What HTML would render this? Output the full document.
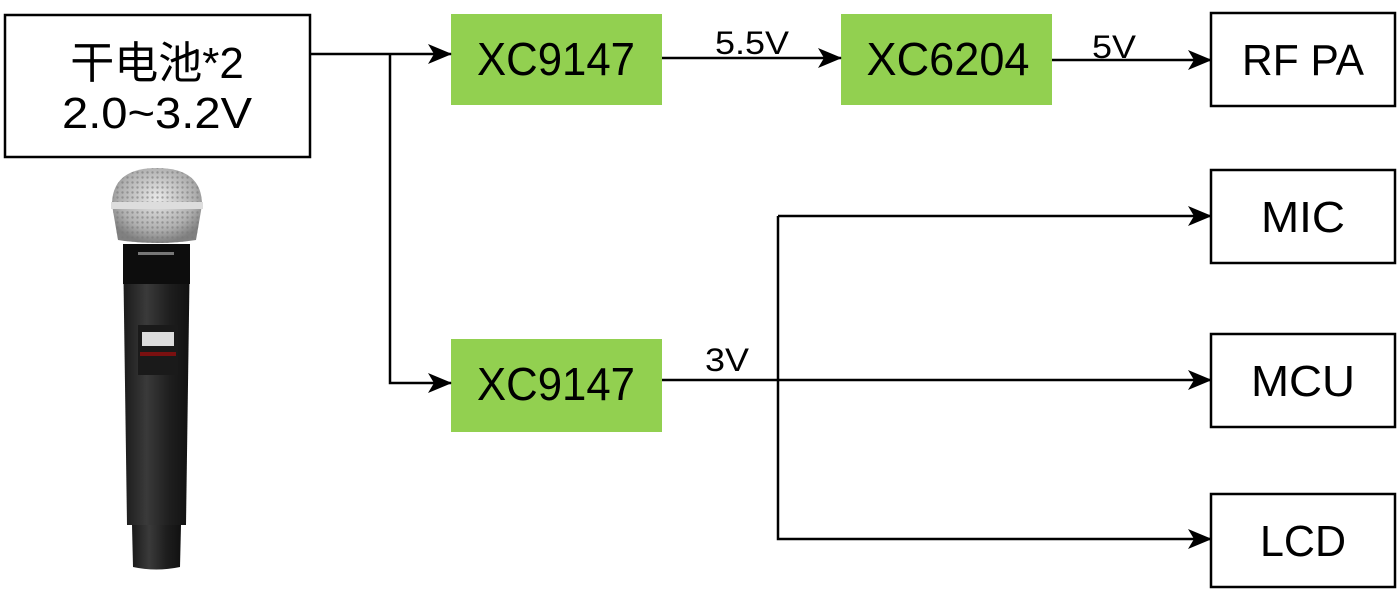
<!DOCTYPE html>
<html><head><meta charset="utf-8"><style>
html,body{margin:0;padding:0;background:#fff;}
svg{display:block;}
text{font-family:"Liberation Sans","Noto Sans CJK SC",sans-serif;fill:#000;}
</style></head><body>
<svg width="1398" height="591" viewBox="0 0 1398 591" xmlns="http://www.w3.org/2000/svg">
<defs>
<marker id="a" markerWidth="24" markerHeight="22" refX="23" refY="11" orient="auto" markerUnits="userSpaceOnUse">
<path d="M0,1 L24,11 L0,21 L6,11 Z" fill="#000"/>
</marker>
<radialGradient id="mesh" cx="50%" cy="40%" r="60%">
<stop offset="0" stop-color="#e8e8e8"/><stop offset="0.7" stop-color="#b0b0b0"/><stop offset="1" stop-color="#808080"/>
</radialGradient>
<pattern id="dots" width="5" height="5" patternUnits="userSpaceOnUse"><circle cx="2.5" cy="2.5" r="1.2" fill="#777"/></pattern>
<linearGradient id="body" x1="0" x2="1"><stop offset="0" stop-color="#1a1a1a"/><stop offset="0.35" stop-color="#3a3a3a"/><stop offset="0.7" stop-color="#1e1e1e"/><stop offset="1" stop-color="#111"/></linearGradient>
</defs>

<rect x="5" y="15" width="305" height="142" fill="#fff" stroke="#000" stroke-width="2.5"/>
<text x="157" y="78" font-size="44" text-anchor="middle">干电池*2</text>
<text x="157" y="128" font-size="44" text-anchor="middle" textLength="190" lengthAdjust="spacingAndGlyphs">2.0~3.2V</text>

<rect x="451" y="14" width="211" height="91" fill="#92d050"/>
<text x="556" y="75" font-size="46" text-anchor="middle" textLength="158" lengthAdjust="spacingAndGlyphs">XC9147</text>
<rect x="841" y="14" width="211" height="91" fill="#92d050"/>
<text x="948" y="75" font-size="46" text-anchor="middle" textLength="163" lengthAdjust="spacingAndGlyphs">XC6204</text>
<rect x="451" y="339" width="211" height="93" fill="#92d050"/>
<text x="556" y="400" font-size="46" text-anchor="middle" textLength="158" lengthAdjust="spacingAndGlyphs">XC9147</text>

<g fill="#fff" stroke="#000" stroke-width="2.5">
<rect x="1211" y="13" width="184" height="93"/>
<rect x="1211" y="170" width="184" height="93"/>
<rect x="1211" y="334" width="184" height="93"/>
<rect x="1211" y="494" width="184" height="93"/>
</g>
<text x="1303" y="75" font-size="44" text-anchor="middle" textLength="122" lengthAdjust="spacingAndGlyphs">RF PA</text>
<text x="1303" y="232" font-size="44" text-anchor="middle" textLength="84" lengthAdjust="spacingAndGlyphs">MIC</text>
<text x="1303" y="396" font-size="44" text-anchor="middle" textLength="104" lengthAdjust="spacingAndGlyphs">MCU</text>
<text x="1303" y="556" font-size="44" text-anchor="middle" textLength="86" lengthAdjust="spacingAndGlyphs">LCD</text>

<g stroke="#000" stroke-width="2.5" fill="none">
<path d="M310,54 H451" marker-end="url(#a)"/>
<path d="M390,54 V383 H451" marker-end="url(#a)"/>
<path d="M662,58 H841" marker-end="url(#a)"/>
<path d="M1052,60 H1211" marker-end="url(#a)"/>
<path d="M662,380 H1211" marker-end="url(#a)"/>
<path d="M778,216 H1211" marker-end="url(#a)"/>
<path d="M778,216 V539 H1211" marker-end="url(#a)"/>
</g>
<text x="752" y="54" font-size="32" text-anchor="middle" textLength="74" lengthAdjust="spacingAndGlyphs">5.5V</text>
<text x="1114" y="58" font-size="32" text-anchor="middle" textLength="44" lengthAdjust="spacingAndGlyphs">5V</text>
<text x="727" y="371" font-size="32" text-anchor="middle" textLength="44" lengthAdjust="spacingAndGlyphs">3V</text>

<path d="M132,525 H181 L180,567 Q156,572 133,567 Z" fill="url(#body)"/>
<path d="M123,244 H190 L186,525 H127 Z" fill="url(#body)"/>
<rect x="123" y="244" width="67" height="40" fill="#0d0d0d"/>
<rect x="138" y="252" width="36" height="3" fill="#777"/>
<rect x="138" y="325" width="40" height="50" fill="#1a1a1a"/>
<rect x="142" y="332" width="32" height="14" fill="#ddd"/>
<rect x="140" y="352" width="36" height="4" fill="#7a1010"/>
<path d="M112,205 Q112,168 157,168 Q202,168 202,205 L196,240 Q157,246 118,240 Z" fill="url(#mesh)"/>
<path d="M112,205 Q112,168 157,168 Q202,168 202,205 L196,240 Q157,246 118,240 Z" fill="url(#dots)" opacity="0.6"/>
<rect x="111" y="202" width="92" height="7" fill="#ddd"/>
</svg>
</body></html>
